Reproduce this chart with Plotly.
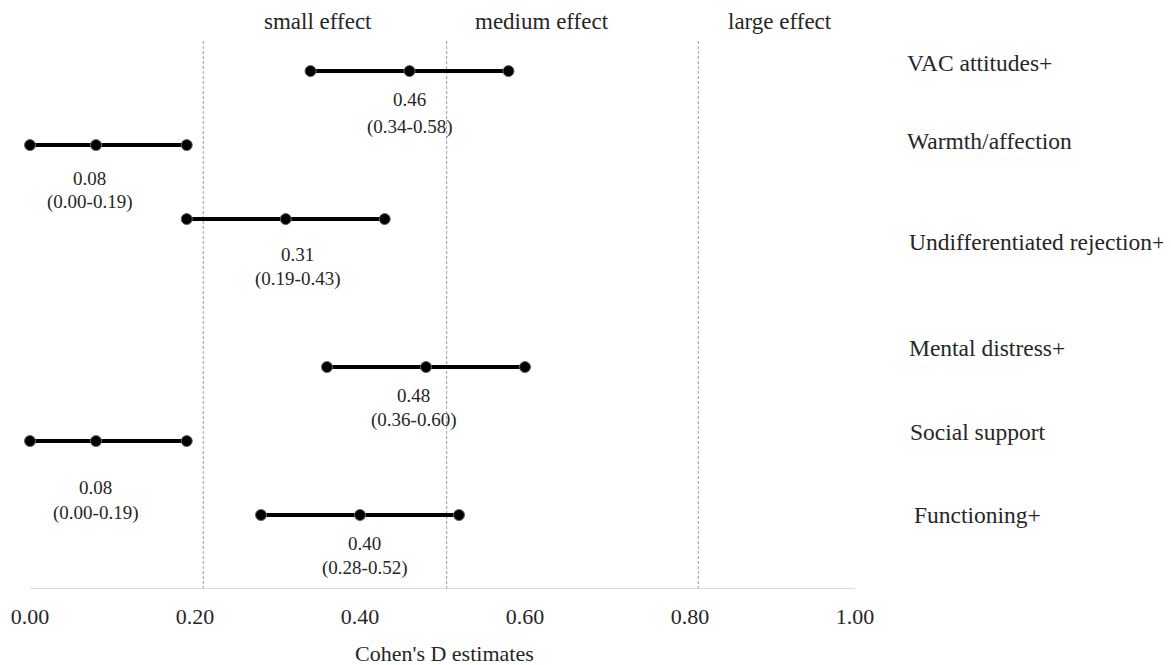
import plotly.graph_objects as go

# ---- data ----
outcomes = ["VAC attitudes+", "Warmth/affection", "Undifferentiated rejection+",
            "Mental distress+", "Social support", "Functioning+"]
estimates = [0.46, 0.08, 0.31, 0.48, 0.08, 0.40]
ci_low = [0.34, 0.00, 0.19, 0.36, 0.00, 0.28]
ci_high = [0.58, 0.19, 0.43, 0.60, 0.19, 0.52]
row_pos = [7, 6, 5, 3, 2, 1]          # vertical slot of each outcome (slot 4 empty)
effect_labels = ["small effect", "medium effect", "large effect"]
effect_lines = [0.21, 0.505, 0.81]    # dashed reference lines as drawn
effect_label_x = [0.349, 0.62, 0.909]
tick_vals = [0.0, 0.2, 0.4, 0.6, 0.8, 1.0]
tick_text = ["0.00", "0.20", "0.40", "0.60", "0.80", "1.00"]
x_title = "Cohen's D estimates"

# label placement tweaks (layout only, pixels)
label_x = [0.46, 0.072, 0.324, 0.465, 0.079, 0.405]
val_shift = [28, 33, 35, 28, 46, 28]
ci_shift = [56, 57, 60, 53, 72, 53]
name_shift = [-8, -4, 23, -19, -9, 0]
name_x = [1.0606, 1.0606, 1.063, 1.063, 1.064, 1.069]

FONT = "Liberation Serif"
TXT = "#262626"
Y_TOP = 7.42

fig = go.Figure()
for i in range(len(outcomes)):
    fig.add_trace(go.Scatter(
        x=[ci_low[i], estimates[i], ci_high[i]],
        y=[row_pos[i]] * 3,
        mode="lines+markers",
        line=dict(color="black", width=4),
        marker=dict(color="black", size=11, line=dict(color="#666666", width=1)),
        showlegend=False, hoverinfo="x",
        cliponaxis=False,
    ))

shapes = []
for xv in effect_lines:
    shapes.append(dict(type="line", xref="x", yref="y", x0=xv, x1=xv, y0=0, y1=Y_TOP,
                       line=dict(color="#9a9a9a", width=1, dash="3px,2px"), layer="below"))
shapes.append(dict(type="line", xref="x", yref="y", x0=0, x1=1, y0=0, y1=0,
                   line=dict(color="#d0d0d0", width=1.5), layer="below"))

annotations = []
for i in range(len(outcomes)):
    annotations.append(dict(x=label_x[i], y=row_pos[i], xref="x", yref="y",
                            text=f"{estimates[i]:.2f}", showarrow=False,
                            yshift=-val_shift[i], font=dict(size=19, color=TXT)))
    annotations.append(dict(x=label_x[i], y=row_pos[i], xref="x", yref="y",
                            text=f"({ci_low[i]:.2f}-{ci_high[i]:.2f})", showarrow=False,
                            yshift=-ci_shift[i], font=dict(size=19, color=TXT)))
    annotations.append(dict(x=name_x[i], y=row_pos[i], xref="paper", yref="y",
                            text=outcomes[i], showarrow=False, xanchor="left",
                            yshift=-name_shift[i], font=dict(size=23.5, color=TXT)))
for lab, xv in zip(effect_labels, effect_label_x):
    annotations.append(dict(x=xv, y=1, xref="x", yref="paper", text=lab,
                            showarrow=False, yanchor="middle", yshift=19,
                            font=dict(size=23, color=TXT)))
annotations.append(dict(x=0.502, y=0, xref="x", yref="paper", text=x_title,
                        showarrow=False, yanchor="middle", yshift=-64,
                        font=dict(size=22, color=TXT)))

fig.update_layout(
    width=1163, height=657,
    margin=dict(l=22, r=316, t=32, b=76),
    paper_bgcolor="white", plot_bgcolor="white",
    font=dict(family=FONT, color=TXT),
    shapes=shapes, annotations=annotations,
    xaxis=dict(range=[0, 1], tickvals=tick_vals, ticktext=tick_text,
               showgrid=False, zeroline=False, showline=False, ticks="",
               automargin=False,
               tickfont=dict(size=22, color=TXT), ticklabelstandoff=12),
    yaxis=dict(range=[0, Y_TOP], visible=False, showgrid=False, zeroline=False,
               automargin=False),
)

fig.write_html("out.html")
